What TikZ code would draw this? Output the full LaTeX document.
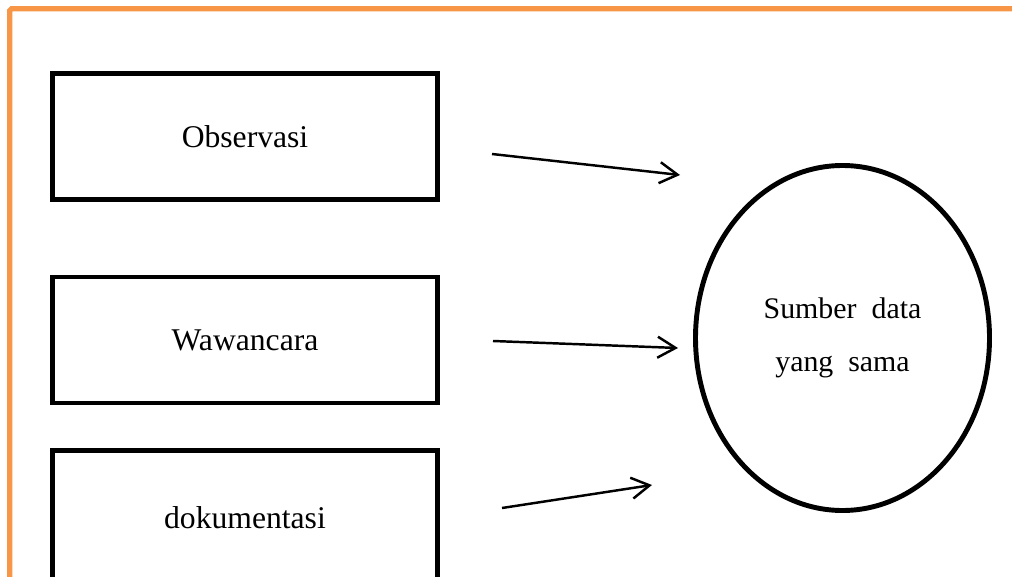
\documentclass[tikz,border=0pt]{standalone}
\usepackage{fontspec}
\setmainfont{Liberation Serif}
\usepackage{tikz}
\usetikzlibrary{shapes.geometric,arrows.meta,positioning}
\usepackage{xcolor}
\definecolor{frameorange}{HTML}{F79646}

\begin{document}
\begin{tikzpicture}[
    method/.style={draw, line width=2.8pt, minimum width=7.7cm, minimum height=2.52cm, align=center, font=\fontsize{18}{21}\selectfont},
    source/.style={draw, ellipse, line width=2.8pt, minimum width=5.88cm, minimum height=6.9cm, inner sep=0pt, align=center, font=\fontsize{17}{30}\selectfont},
    flow/.style={line width=1.4pt, -{Straight Barb[length=0.36cm, width=0.42cm, line width=1.4pt]}}
]
    \useasboundingbox (0,0) rectangle (20.24,-11.52);

    % Frame
    \draw[frameorange, line width=3pt, rounded corners=1pt] (0.196,-11.7) -- (0.196,-0.176) -- (20.4,-0.176);

    % Methods
    \node[method] (obs) at (4.9,-2.73) {Observasi};
    \node[method] (waw) at (4.9,-6.8) {Wawancara};
    \node[method, minimum height=2.7cm] (dok) at (4.9,-10.36) {dokumentasi};

    % Source
    \node[source] (src) at (16.85,-6.76) {Sumber\ \ data\\yang\ \ sama};

    % Arrow ends
    \coordinate (a1s) at (9.84,-3.08);
    \coordinate (a1e) at (13.6,-3.5);
    \coordinate (a2s) at (9.86,-6.82);
    \coordinate (a2e) at (13.56,-6.96);
    \coordinate (a3s) at (10.04,-10.16);
    \coordinate (a3e) at (13.04,-9.7);

    \draw[flow] (a1s) -- (a1e);
    \draw[flow] (a2s) -- (a2e);
    \draw[flow] (a3s) -- (a3e);
\end{tikzpicture}
\end{document}
